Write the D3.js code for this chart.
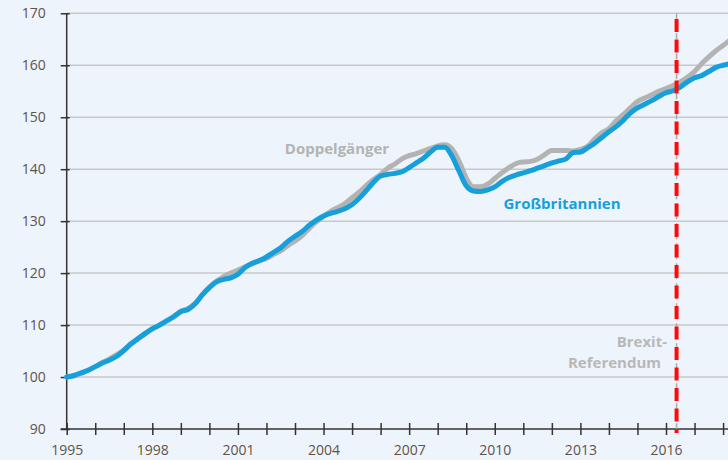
<!DOCTYPE html>
<html><head><meta charset="utf-8">
<script src="https://cdn.jsdelivr.net/npm/d3@7"></script>
<style>html,body{margin:0;padding:0;background:#eef4fb;}svg{display:block;}</style>
</head><body>
<svg id="c" width="728" height="460"></svg>
<script>
// Quarterly index values, 1995 Q1 = 100
const startYear = 1995;
const ukValues = [100.0,100.3,100.8,101.3, 102.0,102.7,103.3,104.0, 105.1,106.4,107.4,108.4, 109.3,110.0,110.8,111.6, 112.6,113.0,114.1,115.8, 117.2,118.3,118.8,119.1, 119.8,121.1,121.9,122.4, 123.1,124.0,124.9,126.1, 127.1,128.0,129.2,130.2, 131.0,131.5,131.9,132.4, 133.2,134.4,135.9,137.5, 138.7,139.0,139.2,139.5, 140.3,141.2,142.1,143.3, 144.2,144.2,142.5,139.6, 136.8,135.8,135.7,136.0, 136.6,137.6,138.4,138.9, 139.3,139.7,140.2,140.7, 141.2,141.6,142.0,143.2, 143.3,144.1,145.0,146.1, 147.2,148.2,149.4,150.8, 151.8,152.5,153.2,154.0, 154.7,155.1,155.8,156.8, 157.6,158.0,158.8,159.6, 160.0,160.3];
const doppelValues = [100.0,100.2,100.7,101.3, 102.0,102.8,103.5,104.3, 105.2,106.3,107.3,108.3, 109.2,110.0,110.8,111.7, 112.6,113.2,114.2,115.8, 117.3,118.5,119.3,120.0, 120.6,121.2,121.8,122.4, 122.8,123.6,124.3,125.3, 126.2,127.2,128.6,129.9, 130.9,131.9,132.6,133.4, 134.5,135.6,136.9,138.0, 139.0,140.2,141.0,142.0, 142.6,143.0,143.5,144.0, 144.5,144.7,143.9,141.5, 138.3,136.6,136.6,137.1, 138.2,139.3,140.3,141.1, 141.4,141.5,141.9,142.8, 143.6,143.6,143.6,143.5, 143.8,144.4,145.8,147.0, 147.8,149.3,150.5,151.8, 153.0,153.7,154.3,155.0, 155.5,156.1,156.8,157.7, 158.8,160.3,161.6,162.8, 163.8,164.9];
const yTicks = [90,100,110,120,130,140,150,160,170];
const xTickYears = d3.range(1995, 2019);
const xLabelYears = [1995,1998,2001,2004,2007,2010,2013,2016];
const brexitYear = 2016.37;
const seriesLabels = {uk: "Großbritannien", doppel: "Doppelgänger", brexit: ["Brexit-", "Referendum"]};

const svg = d3.select("#c");
const W = 728, H = 460;
const x0 = 66.7, yBottom = 429, yTop = 13.3;
const x = d3.scaleLinear().domain([1995, 2016]).range([x0, 666]);
const y = d3.scaleLinear().domain([90, 170]).range([yBottom, yTop]);
const font = "'Open Sans', 'DejaVu Sans', sans-serif";
const tickColor = "#5f5249";

svg.append("rect").attr("width", W).attr("height", H).attr("fill", "#eef4fb");

// gridlines
svg.append("g").selectAll("line").data(yTicks.filter(d => d > 90)).join("line")
  .attr("x1", x0).attr("x2", W).attr("y1", d => y(d)).attr("y2", d => y(d))
  .attr("stroke", "#c8c8c8").attr("stroke-width", 1.5);

// Y axis
const yAxis = d3.axisLeft(y).tickValues(yTicks).tickSize(6).tickPadding(16).tickFormat(d3.format("d"));
const gy = svg.append("g").attr("transform", `translate(${x0},0)`).call(yAxis);
gy.select(".domain").remove();
gy.selectAll(".tick line").attr("stroke", "#333").attr("stroke-width", 1.5).attr("x2", -6).attr("x1", 3);
gy.selectAll(".tick text").attr("fill", tickColor).attr("font-family", font).attr("font-size", 14).attr("x", -21);
svg.append("line").attr("x1", x0).attr("x2", x0).attr("y1", yTop).attr("y2", yBottom)
  .attr("stroke", "#333").attr("stroke-width", 1.5);

// X axis
const xAxis = d3.axisBottom(x).tickValues(xTickYears).tickSize(6).tickFormat(d => xLabelYears.includes(d) ? d : "");
const gx = svg.append("g").attr("transform", `translate(0,${yBottom})`).call(xAxis);
gx.select(".domain").remove();
gx.selectAll(".tick line").attr("stroke", "#333").attr("stroke-width", 1.5).attr("y1", -6).attr("y2", 6);
gx.selectAll(".tick text").attr("fill", tickColor).attr("font-family", font).attr("font-size", 14).attr("y", 16);
svg.append("line").attr("x1", x0 - 6).attr("x2", W).attr("y1", yBottom).attr("y2", yBottom)
  .attr("stroke", "#333").attr("stroke-width", 1.5);

// Brexit line (thin grey guide)
svg.append("line").attr("x1", x(brexitYear)).attr("x2", x(brexitYear)).attr("y1", yTop).attr("y2", yBottom)
  .attr("stroke", "#aaaaaa").attr("stroke-width", 1.5).attr("stroke-dasharray", "6,4");

// series lines
const line = d3.line().x((d, i) => x(startYear + i / 4)).y(d => y(d)).curve(d3.curveMonotoneX);
svg.append("path").datum(doppelValues).attr("d", line).attr("fill", "none")
  .attr("stroke", "#b3b3b3").attr("stroke-width", 5).attr("stroke-linejoin", "round").attr("stroke-linecap", "round");
svg.append("path").datum(ukValues).attr("d", line).attr("fill", "none")
  .attr("stroke", "#159fdb").attr("stroke-width", 5).attr("stroke-linejoin", "round").attr("stroke-linecap", "round");

// red dashed referendum marker
svg.append("line").attr("x1", x(brexitYear)).attr("x2", x(brexitYear)).attr("y1", 19).attr("y2", 433)
  .attr("stroke", "#ff0a0a").attr("stroke-width", 4).attr("stroke-dasharray", "13,7.5");

// labels
svg.append("text").attr("x", 337).attr("y", 154).attr("text-anchor", "middle")
  .attr("font-family", font).attr("font-weight", "bold").attr("font-size", 15).attr("fill", "#b3b3b3")
  .text(seriesLabels.doppel);
svg.append("text").attr("x", 562).attr("y", 209).attr("text-anchor", "middle")
  .attr("font-family", font).attr("font-weight", "bold").attr("font-size", 15).attr("fill", "#159fdb")
  .text(seriesLabels.uk);
svg.append("text").attr("x", 667).attr("y", 347).attr("text-anchor", "end")
  .attr("font-family", font).attr("font-weight", "bold").attr("font-size", 15).attr("fill", "#b8b8b8")
  .text(seriesLabels.brexit[0]);
svg.append("text").attr("x", 661).attr("y", 368).attr("text-anchor", "end")
  .attr("font-family", font).attr("font-weight", "bold").attr("font-size", 15).attr("fill", "#b8b8b8")
  .text(seriesLabels.brexit[1]);
</script>
</body></html>
